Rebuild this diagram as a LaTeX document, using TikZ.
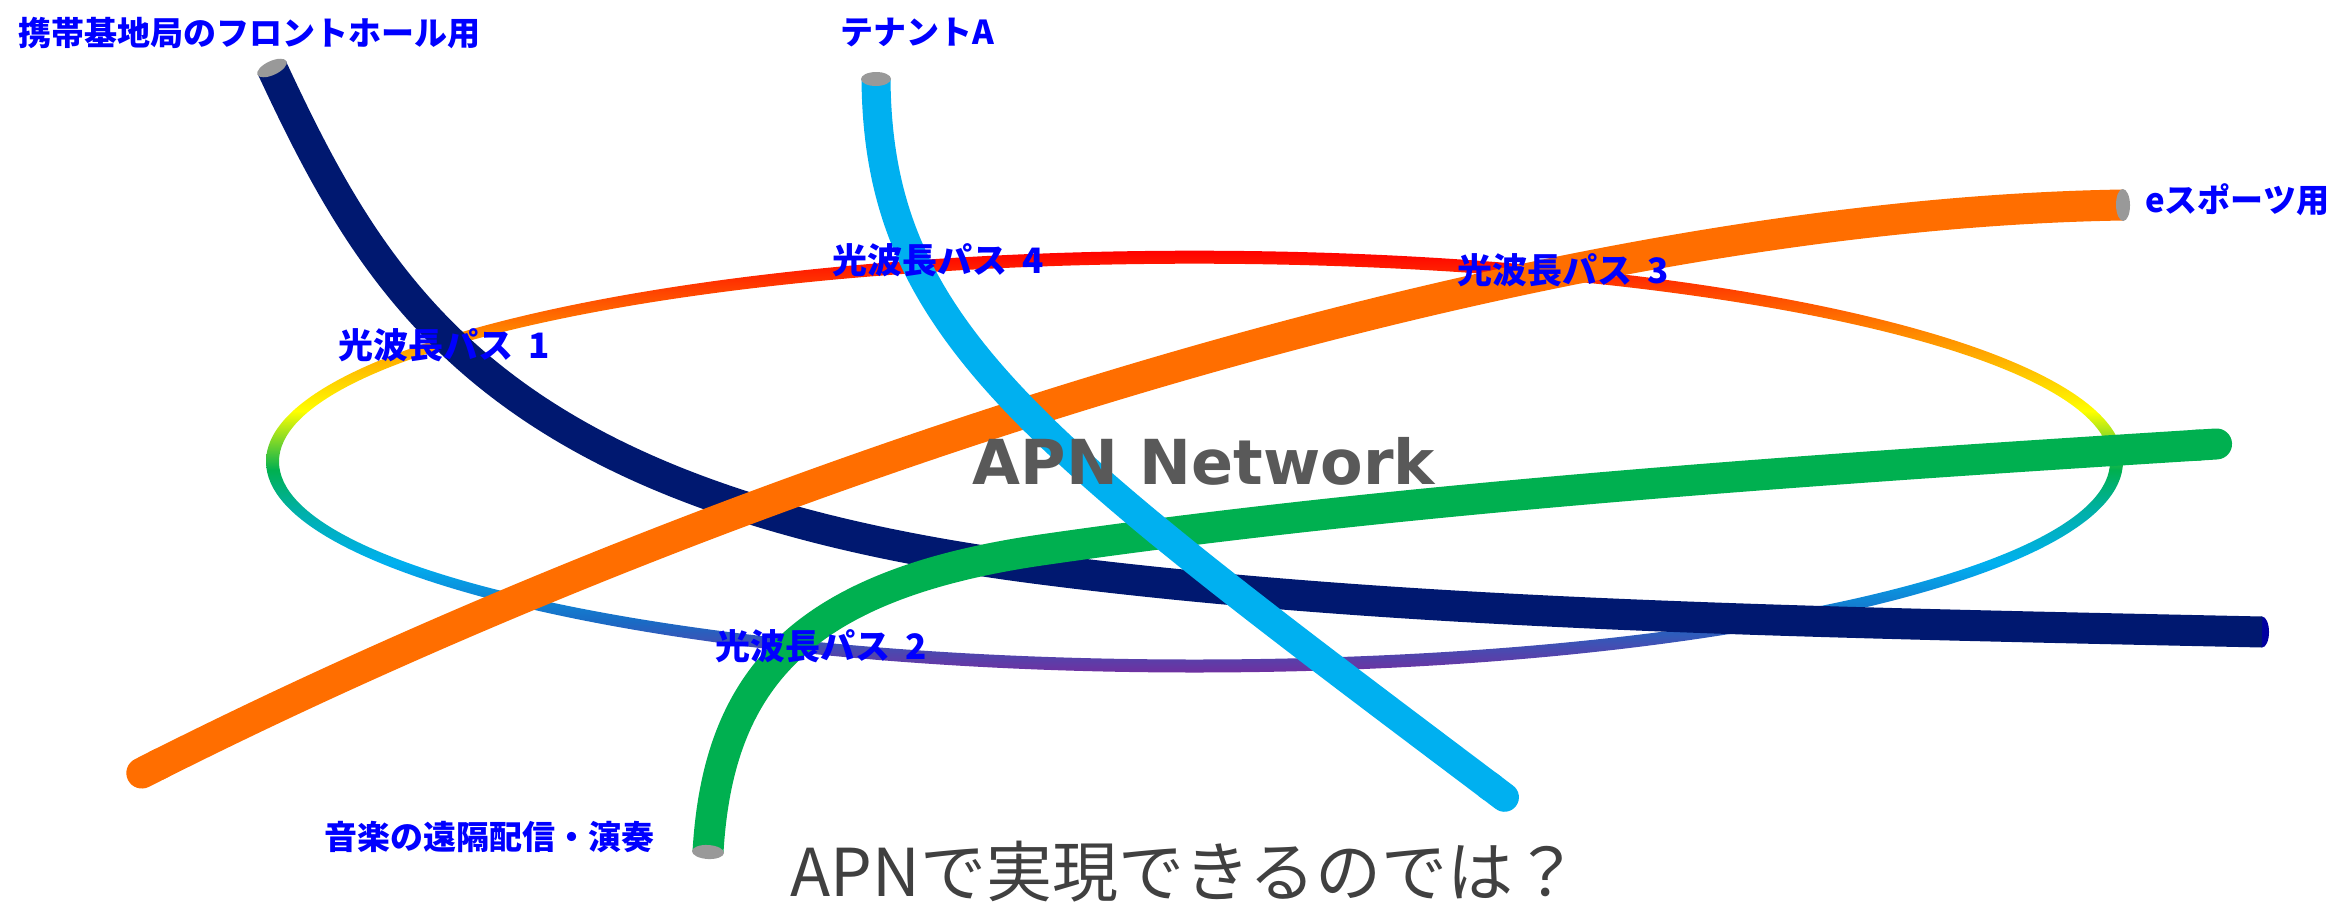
\documentclass[tikz,border=0pt]{standalone}
\usepackage{fontspec}
\usetikzlibrary{shapes.geometric,arrows.meta}
\newfontfamily\jp{Noto Sans CJK JP}
\newfontfamily\dvs{DejaVu Sans}
\definecolor{navytube}{RGB}{0,24,112}
\definecolor{navyend}{RGB}{0,0,160}
\definecolor{cyantube}{RGB}{0,176,240}
\definecolor{orangetube}{RGB}{255,110,0}
\definecolor{greentube}{RGB}{0,176,80}
\definecolor{capgrey}{RGB}{153,153,153}
\definecolor{labelblue}{RGB}{0,0,255}
\definecolor{titlegrey}{RGB}{89,89,89}
\definecolor{questgrey}{RGB}{64,64,64}
\definecolor{rred}{RGB}{255,0,0}
\definecolor{rorange}{RGB}{255,140,0}
\definecolor{ryellow}{RGB}{255,255,0}
\definecolor{rgreen}{RGB}{0,176,80}
\definecolor{rteal}{RGB}{0,176,170}
\definecolor{rcyan}{RGB}{0,176,240}
\definecolor{rblue}{RGB}{26,106,196}
\definecolor{rpurple}{RGB}{112,48,160}
\pgfdeclareverticalshading{ringgrad}{100bp}{color(0bp)=(rpurple); color(25bp)=(rpurple); color(31bp)=(rblue); color(38bp)=(rcyan); color(44bp)=(rteal); color(49bp)=(rgreen); color(56bp)=(ryellow); color(65bp)=(rorange); color(75bp)=(rred); color(100bp)=(rred)}
\newcommand{\pathname}[1]{光波長パス\hspace{0.45em}#1}
\begin{document}
\begin{tikzpicture}[x=1pt, y=-1pt,
  capnode/.style={ellipse, fill=capgrey, inner sep=0pt, minimum width=14pt},
  lbl/.style={inner sep=0pt, text=labelblue, font=\jp\bfseries\fontsize{33}{38}\selectfont},
  pathlbl/.style={inner sep=1pt, text=labelblue, font=\jp\bfseries\fontsize{35}{40}\selectfont}]
\useasboundingbox (0,0) rectangle (2331,905);
% ring
\coordinate (ringc) at (1194.5,461.6);
\shade[shading=ringgrad, even odd rule] (ringc) ellipse [x radius=928.5pt, y radius=210.9pt] (ringc) ellipse [x radius=915.5pt, y radius=197.9pt];
% navy tube
\node[ellipse, fill=navyend, inner sep=0pt, minimum width=14pt, minimum height=31pt] (navyendcap) at (2262,632) {};
\draw[navytube, line width=31pt] (272,68) .. controls (380,300) and (500,500) .. (1041,569)
  node[capnode, pos=0, sloped, minimum height=32pt] (navycap) {}
  .. controls (1400,615) and (1800,622) .. (2262,632);
% green tube
\draw[greentube, line width=31pt, -{Round Cap[]}] (708,852) .. controls (718,680) and (800,585) .. (1041,550)
  node[capnode, pos=0, sloped, minimum height=32pt] (greencap) {}
  .. controls (1400,498) and (1800,470) .. (2232,443);
% orange tube
\draw[orangetube, line width=31pt, -{Round Cap[]}] (2123,205) .. controls (1500,215) and (700,492) .. (128,780)
  node[capnode, pos=0, sloped, minimum height=32pt] (orangecap) {};
% cyan tube
\draw[cyantube, line width=29pt, -{Round Cap[]}] (876,79) .. controls (878,330) and (1030,440) .. (1516,806)
  node[capnode, pos=0, sloped, minimum height=30pt] (cyancap) {};
% labels
\node[lbl, anchor=west] (l1) at (18,33) {携帯基地局のフロントホール用};
\node[lbl, anchor=west] (l2) at (840,33) {テナントA};
\node[lbl, anchor=west] (l3) at (2145,200) {eスポーツ用};
\node[lbl, anchor=west] (l4) at (324,837) {音楽の遠隔配信・演奏};
\node[pathlbl, anchor=west] (p1) at (337,345) {\pathname{1}};
\node[pathlbl, anchor=west] (p4) at (831,260) {\pathname{4}};
\node[pathlbl, anchor=west] (p3) at (1456,270) {\pathname{3}};
\node[pathlbl, anchor=west] (p2) at (714,646) {\pathname{2}};
\node[inner sep=0pt, text=titlegrey, font=\dvs\bfseries\fontsize{62}{70}\selectfont] (apn) at (1204,461) {APN Network};
\node[inner sep=0pt, text=questgrey, font=\jp\fontsize{66}{72}\selectfont] (q) at (1185,872) {APNで実現できるのでは？};
\end{tikzpicture}
\end{document}
